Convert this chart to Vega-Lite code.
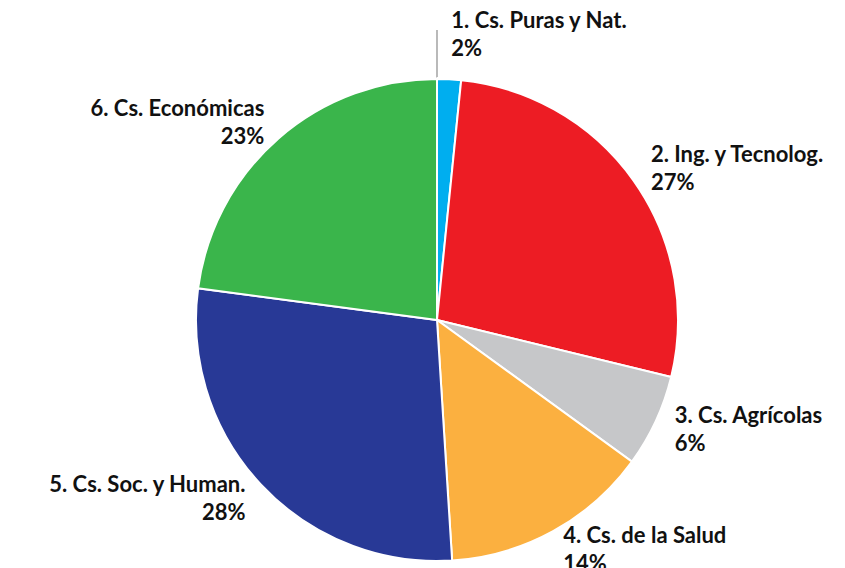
{
  "$schema": "https://vega.github.io/schema/vega-lite/v6.json",
  "width": 816,
  "height": 496,
  "autosize": "none",
  "padding": {"left": 29, "top": 72, "right": 0, "bottom": 0},
  "background": "white",
  "config": {"view": {"stroke": null}, "text": {"font": "Lato", "fontWeight": "bold", "fontSize": 22, "fill": "#111111", "baseline": "middle"}},
  "data": {
    "values": [
      {"cat": "1. Cs. Puras y Nat.", "share": 0.016},
      {"cat": "2. Ing. y Tecnolog.", "share": 0.272},
      {"cat": "3. Cs. Agrícolas", "share": 0.062},
      {"cat": "4. Cs. de la Salud", "share": 0.14},
      {"cat": "5. Cs. Soc. y Human.", "share": 0.281},
      {"cat": "6. Cs. Económicas", "share": 0.229}
    ]
  },
  "encoding": {
    "theta": {"field": "share", "type": "quantitative", "stack": true},
    "order": {"field": "cat", "type": "nominal", "sort": "ascending"},
    "detail": {"field": "cat", "type": "nominal"}
  },
  "layer": [
    {
      "mark": {"type": "arc", "outerRadius": 241, "stroke": "white", "strokeWidth": 2},
      "encoding": {
        "color": {
          "field": "cat",
          "type": "nominal",
          "sort": null,
          "scale": {
            "domain": ["1. Cs. Puras y Nat.", "2. Ing. y Tecnolog.", "3. Cs. Agrícolas", "4. Cs. de la Salud", "5. Cs. Soc. y Human.", "6. Cs. Económicas"],
            "range": ["#00AEEF", "#ED1C24", "#C6C7C9", "#FBB040", "#283996", "#3AB54B"]
          },
          "legend": null
        }
      }
    },
    {
      "mark": {"type": "arc", "outerRadius": 290, "innerRadius": 243, "fill": null, "stroke": "#8C8C8C", "strokeWidth": 1.2, "strokeDash": [0, 29.2, 47, 300]},
      "encoding": {
        "strokeOpacity": {"condition": {"test": "datum.cat < '2'", "value": 1}, "value": 0}
      }
    },
    {
      "mark": {"type": "text", "radius": 262, "align": "left", "dy": -14},
      "encoding": {
        "text": {"condition": {"test": "datum.cat >= '2' && datum.cat < '5'", "field": "cat"}, "value": ""}
      }
    },
    {
      "mark": {"type": "text", "radius": 262, "align": "left", "dy": 14},
      "encoding": {
        "text": {"condition": {"test": "datum.cat >= '2' && datum.cat < '5'", "field": "share", "format": ".0%"}, "value": ""}
      }
    },
    {
      "mark": {"type": "text", "radius": 262, "align": "right", "dy": -14},
      "encoding": {
        "text": {"condition": {"test": "datum.cat >= '5'", "field": "cat"}, "value": ""}
      }
    },
    {
      "mark": {"type": "text", "radius": 262, "align": "right", "dy": 14},
      "encoding": {
        "text": {"condition": {"test": "datum.cat >= '5'", "field": "share", "format": ".0%"}, "value": ""}
      }
    },
    {
      "mark": {"type": "text", "radius": 285, "align": "left", "dy": -14},
      "encoding": {
        "text": {"condition": {"test": "datum.cat < '2'", "field": "cat"}, "value": ""}
      }
    },
    {
      "mark": {"type": "text", "radius": 285, "align": "left", "dy": 14},
      "encoding": {
        "text": {"condition": {"test": "datum.cat < '2'", "field": "share", "format": ".0%"}, "value": ""}
      }
    }
  ]
}
